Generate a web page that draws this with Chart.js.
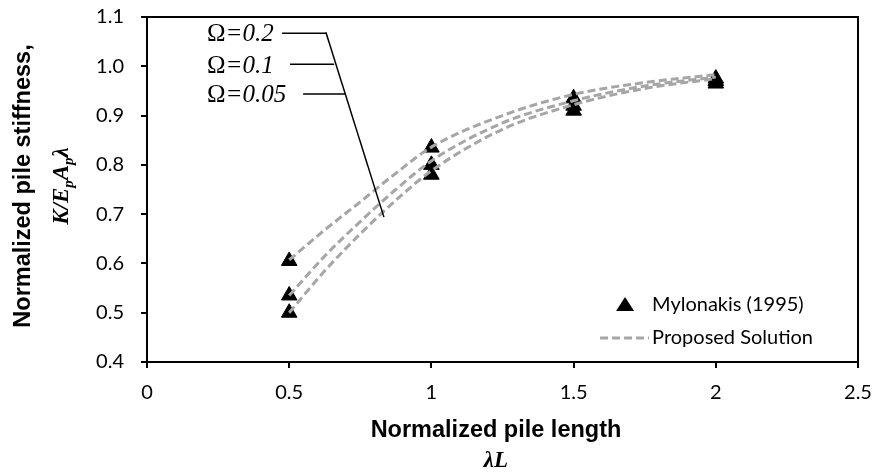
<!DOCTYPE html>
<html><head><meta charset="utf-8">
<script src="https://cdn.jsdelivr.net/npm/chart.js@4/dist/chart.umd.min.js"></script>
<style>html,body{margin:0;padding:0;background:#fff}#wrap{width:879px;height:472px;position:relative}</style>
</head><body><div id="wrap"><canvas id="c" width="879" height="472"></canvas></div>
<script>
// ---- data ----
const curveX   = [0.5, 0.625, 0.75, 0.875, 1, 1.25, 1.5, 1.75, 2];
const omega02  = [0.607, 0.668, 0.725, 0.783, 0.836, 0.900, 0.943, 0.967, 0.983];
const omega01  = [0.535, 0.615, 0.685, 0.750, 0.808, 0.885, 0.930, 0.960, 0.978];
const omega005 = [0.500, 0.585, 0.660, 0.728, 0.788, 0.872, 0.922, 0.955, 0.975];
const mylonakisX = [0.5, 0.5, 0.5, 1, 1, 1, 1.5, 1.5, 1.5, 2, 2, 2];
const mylonakisY = [0.605, 0.535, 0.500, 0.835, 0.800, 0.780, 0.935, 0.920, 0.910, 0.975, 0.970, 0.965];
const xTicks = [0, 0.5, 1, 1.5, 2, 2.5];
const yTicks = [0.4, 0.5, 0.6, 0.7, 0.8, 0.9, 1.0, 1.1];
const curveLabels = ['\u03A9=0.2', '\u03A9=0.1', '\u03A9=0.05'];
const legendLabels = ['Mylonakis (1995)', 'Proposed Solution'];
const xTitle = 'Normalized pile length';
const yTitle = 'Normalized pile stiffness,';

const GRAY = '#A6A6A6';
const TICKFONT = {family: 'Lato', size: 20};

function pts(xs, ys){ return xs.map((x,i)=>({x:x, y:ys[i]})); }
function lineDs(ys){
  return {type:'line', data: pts(curveX, ys), showLine:true, borderColor:GRAY, borderWidth:3,
    borderDash:[8,4], pointRadius:0, fill:false, cubicInterpolationMode:'monotone', order:0};
}

const annot = {
  id:'annot',
  afterDraw(chart){
    const ctx = chart.ctx, xs = chart.scales.x, ys = chart.scales.y, a = chart.chartArea;
    const X = v => xs.getPixelForValue(v), Y = v => ys.getPixelForValue(v);
    ctx.save();
    // box
    ctx.strokeStyle = '#000'; ctx.lineWidth = 2;
    ctx.beginPath();
    ctx.moveTo(a.left, a.top); ctx.lineTo(a.right, a.top); ctx.lineTo(a.right, a.bottom);
    ctx.stroke();
    // leader lines for curve labels (data units)
    ctx.lineWidth = 1.5;
    const leaders = [[0.475, 0.629, 1.067],[0.503, 0.658, 1.004],[0.549, 0.700, 0.944]];
    leaders.forEach(l=>{ ctx.beginPath(); ctx.moveTo(X(l[0]), Y(l[2])); ctx.lineTo(X(l[1]), Y(l[2])); ctx.stroke(); });
    ctx.beginPath(); ctx.moveTo(X(0.629), Y(1.069)); ctx.lineTo(X(0.833), Y(0.694)); ctx.stroke();
    // curve labels
    const baseY = [1.051, 0.986, 0.927];
    ctx.fillStyle = '#000'; ctx.textBaseline = 'alphabetic'; ctx.textAlign = 'left';
    curveLabels.forEach((t,i)=>{
      let x = X(0.211), y = Y(baseY[i]);
      ctx.font = '25px "Liberation Serif"';
      ctx.fillText(t[0], x, y);
      x += ctx.measureText(t[0]).width;
      ctx.font = 'italic 25px "Liberation Serif"';
      ctx.fillText(t.slice(1), x, y);
    });
    // legend (left-aligned texts, symbol column to their left)
    ctx.font = '20px Lato';
    ctx.textBaseline = 'middle';
    const tl = 813 - ctx.measureText(legendLabels[1]).width;
    const ly1 = 305, ly2 = 338, mx = tl - 27;
    ctx.beginPath(); ctx.moveTo(mx, ly1-8); ctx.lineTo(mx+9, ly1+6); ctx.lineTo(mx-9, ly1+6); ctx.closePath(); ctx.fill();
    ctx.fillText(legendLabels[0], tl, ly1);
    ctx.strokeStyle = GRAY; ctx.lineWidth = 3; ctx.setLineDash([8,4]);
    ctx.beginPath(); ctx.moveTo(tl-52, ly2); ctx.lineTo(tl-3, ly2); ctx.stroke();
    ctx.setLineDash([]);
    ctx.fillText(legendLabels[1], tl, ly2);
    // x title
    ctx.textBaseline = 'alphabetic';
    ctx.textAlign = 'center';
    ctx.font = 'bold 23.5px "Liberation Sans"';
    ctx.fillText(xTitle, 496, 437);
    ctx.font = 'bold italic 23px "Liberation Serif"';
    ctx.fillText('\u03BBL', 496, 467);
    // y title (rotated)
    ctx.translate(30, 186); ctx.rotate(-Math.PI/2);
    ctx.font = 'bold 23.5px "Liberation Sans"';
    ctx.fillText(yTitle, 0, 0);
    // second line: K/EpApλ
    ctx.translate(0, 38);
    const parts = [['K/E', 23, 0], ['p', 15, 5], ['A', 23, 0], ['p', 15, 5], ['\u03BB', 23, 0]];
    let w = 0;
    parts.forEach(p=>{ ctx.font = 'bold italic '+p[1]+'px "Liberation Serif"'; w += ctx.measureText(p[0]).width; });
    let cx = -w/2; ctx.textAlign = 'left';
    parts.forEach(p=>{ ctx.font = 'bold italic '+p[1]+'px "Liberation Serif"'; ctx.fillText(p[0], cx, p[2]); cx += ctx.measureText(p[0]).width; });
    ctx.restore();
  }
};

new Chart(document.getElementById('c'), {
  type:'scatter',
  data:{ datasets:[
    lineDs(omega02), lineDs(omega01), lineDs(omega005),
    {type:'scatter', data: pts(mylonakisX, mylonakisY), pointStyle:'triangle', pointRadius:9,
      backgroundColor:'#000', borderColor:'#000', borderWidth:1, order:1}
  ]},
  options:{
    responsive:false, animation:false, devicePixelRatio:1,
    layout:{padding:{top:17, right:21, left:0, bottom:0}},
    plugins:{legend:{display:false}, tooltip:{enabled:false}},
    scales:{
      x:{type:'linear', min:0, max:2.5,
        afterBuildTicks:s=>{ s.ticks = xTicks.map(v=>({value:v})); },
        afterFit:s=>{ s.height = 110; s.paddingLeft = 0; s.paddingRight = 0; },
        grid:{drawOnChartArea:false, color:'#000', lineWidth:2, tickLength:6, tickWidth:2},
        border:{color:'#000', width:2},
        ticks:{color:'#000', font:TICKFONT, padding:13, maxRotation:0, callback:v=>String(v)}},
      y:{type:'linear', min:0.4, max:1.1,
        afterBuildTicks:s=>{ s.ticks = yTicks.map(v=>({value:v})); },
        afterFit:s=>{ s.width = 147; s.paddingTop = 0; s.paddingBottom = 0; },
        grid:{drawOnChartArea:false, color:'#000', lineWidth:2, tickLength:6, tickWidth:2},
        border:{color:'#000', width:2},
        ticks:{color:'#000', font:TICKFONT, padding:17, callback:v=>v.toFixed(1)}}
    }
  },
  plugins:[annot]
});
</script></body></html>
